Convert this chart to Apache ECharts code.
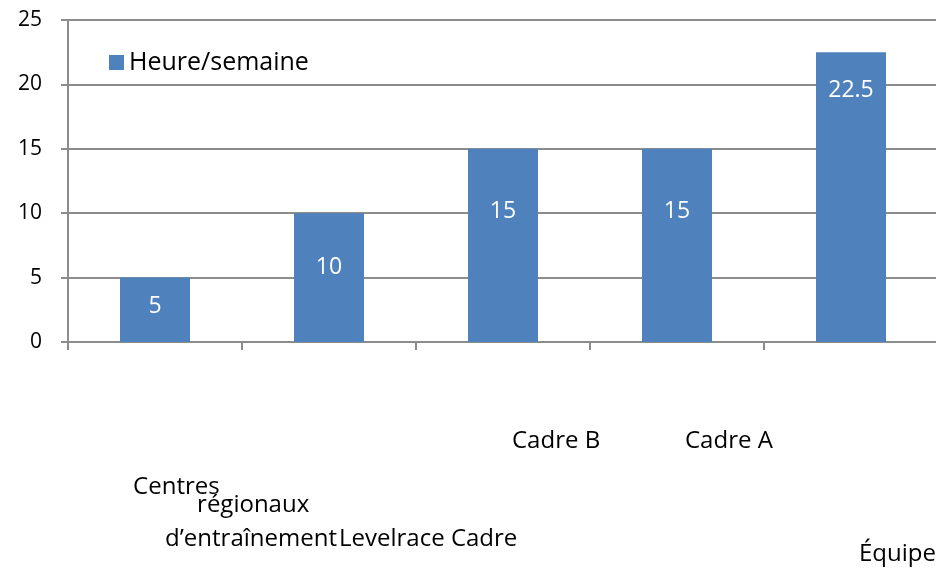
<!DOCTYPE html>
<html>
	<head>
		<meta charset="utf-8">
		<title>Heure/semaine</title>
		<script type="text/javascript" src="https://cdn.jsdelivr.net/npm/echarts@6/dist/echarts.min.js"></script>
		<style>
			html, body { margin: 0; padding: 0; background: #FFFFFF; }
			#chart { width: 936px; height: 568px; }
		</style>
	</head>
	<body>
		<div id="chart"></div>
		<script type="text/javascript">
			// 数据
			var seriesName = 'Heure/semaine';
			var categories = ['Centres régionaux d’entraînement', 'Levelrace Cadre', 'Cadre B', 'Cadre A', 'Équipe'];
			var hours = [5, 10, 15, 15, 22.5];
			var yTicks = [0, 5, 10, 15, 20, 25];

			var fontFamily = '"Open Sans", "Noto Sans", sans-serif';

			// 柱内数字标签离柱顶的距离
			var labelDistance = [17, 42, 51, 51, 26];

			// x轴标签的位置（原图里标签错位了）
			var xLabelStyle = [
				{ align: 'center', padding: [136, 0, 0, 160] },
				{ align: 'left', padding: [185, 0, 0, 10] },
				{ align: 'left', padding: [87, 0, 0, 9] },
				{ align: 'left', padding: [87, 0, 0, 8] },
				{ align: 'left', padding: [200, 0, 0, 8] }
			];

			var xData = categories.map(function(name, i) {
				return { value: name, textStyle: xLabelStyle[i] };
			});

			var barData = hours.map(function(v, i) {
				return { value: v, label: { distance: labelDistance[i] } };
			});

			var option = {
				animation: false,
				textStyle: { fontFamily: fontFamily },
				legend: {
					data: [seriesName],
					left: 104,
					top: 45,
					icon: 'rect',
					itemWidth: 15,
					itemHeight: 15,
					textStyle: { fontSize: 25, lineHeight: 24, color: '#000000', fontFamily: fontFamily }
				},
				grid: {
					left: 68,
					top: 20,
					right: -2,
					bottom: 226,
					outerBoundsMode: 'none'
				},
				xAxis: {
					type: 'category',
					data: xData,
					axisLine: { lineStyle: { color: '#8c8c8c', width: 2 } },
					axisTick: { show: true, length: 8, lineStyle: { color: '#8c8c8c', width: 2 } },
					axisLabel: {
						interval: 0,
						margin: 0,
						verticalAlign: 'top',
						color: '#000000',
						fontSize: 24,
						fontFamily: fontFamily,
						formatter: function(value, index) {
							if (index === 0) {
								return '{a|Centres}\n{sb| }{b|régionaux}\n{sc| }{c|d’entraînement}';
							}
							return '{t|' + value + '}';
						},
						rich: {
							a: { fontSize: 24, lineHeight: 18, color: '#000000', align: 'left' },
							b: { fontSize: 24, lineHeight: 18, color: '#000000', align: 'left' },
							c: { fontSize: 24, lineHeight: 50, color: '#000000', align: 'left' },
							sb: { width: 64, lineHeight: 10, align: 'left' },
							sc: { width: 32, lineHeight: 10, align: 'left' },
							t: { fontSize: 24, lineHeight: 24, color: '#000000' }
						}
					},
					splitLine: { show: false }
				},
				yAxis: {
					type: 'value',
					min: yTicks[0],
					max: yTicks[yTicks.length - 1],
					interval: yTicks[1] - yTicks[0],
					axisLine: { show: true, lineStyle: { color: '#8c8c8c', width: 2 } },
					axisTick: { show: true, length: 7, lineStyle: { color: '#8c8c8c', width: 2 } },
					axisLabel: {
						margin: 26,
						color: '#000000',
						fontSize: 21,
						padding: [12, 0, 0, 0],
						fontFamily: fontFamily
					},
					splitLine: { show: true, lineStyle: { color: '#8c8c8c', width: 2 } }
				},
				series: [{
					name: seriesName,
					type: 'bar',
					data: barData,
					barWidth: 70,
					itemStyle: { color: '#4F81BD' },
					label: {
						show: true,
						position: 'insideTop',
						color: '#FFFFFF',
						fontSize: 23,
						lineHeight: 24,
						fontFamily: fontFamily
					}
				}]
			};

			var myChart = echarts.init(document.getElementById('chart'));
			myChart.setOption(option);
		</script>
	</body>
</html>
